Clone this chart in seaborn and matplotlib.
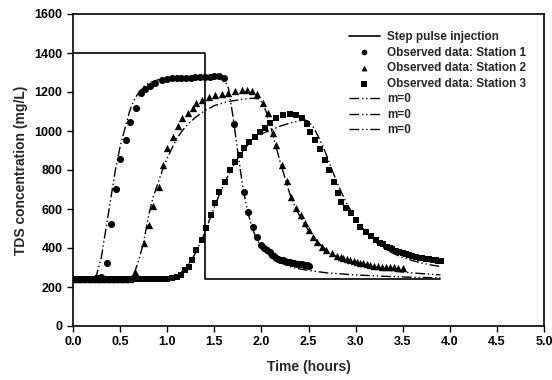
import matplotlib
matplotlib.use('Agg')
import matplotlib.pyplot as plt
import seaborn as sns

# step pulse injection
step_t = [0.0, 1.4, 1.4, 3.9]
step_c = [1400, 1400, 240, 240]

# observed data, station 1
t1 = [0.00, 0.05, 0.10, 0.15, 0.20, 0.25, 0.30, 0.36, 0.40, 0.46, 0.50, 0.56,
      0.61, 0.67, 0.72, 0.76, 0.82, 0.87, 0.94, 1.00, 1.05, 1.10, 1.15, 1.20,
      1.25, 1.30, 1.35, 1.40, 1.45, 1.50, 1.55, 1.60, 1.71, 1.81, 1.86, 1.91,
      1.95, 2.00, 2.03, 2.06, 2.09, 2.11, 2.13, 2.15, 2.18, 2.20, 2.23, 2.25,
      2.28, 2.30, 2.33, 2.35, 2.38, 2.40, 2.43, 2.45, 2.48, 2.50]
c1 = [240, 240, 240, 240, 242, 245, 250, 321, 521, 702, 855, 954,
      1046, 1116, 1193, 1215, 1232, 1248, 1262, 1268, 1270, 1272, 1272, 1274,
      1274, 1275, 1276, 1276, 1278, 1280, 1280, 1270, 1034, 686, 584, 509,
      458, 415, 402, 390, 377, 364, 357, 350, 345, 340, 336, 333,
      330, 327, 325, 322, 320, 318, 316, 314, 312, 310]

# observed data, station 2
t2 = [0.00, 0.05, 0.10, 0.15, 0.20, 0.25, 0.30, 0.35, 0.40, 0.45, 0.50, 0.55,
      0.60, 0.66, 0.75, 0.81, 0.85, 0.91, 0.96, 1.00, 1.06, 1.11, 1.16, 1.22,
      1.27, 1.31, 1.37, 1.44, 1.51, 1.58, 1.65, 1.72, 1.79, 1.85, 1.90, 1.95,
      2.02, 2.07, 2.12, 2.16, 2.22, 2.27, 2.31, 2.37, 2.42, 2.46, 2.51, 2.55,
      2.59, 2.64, 2.69, 2.75, 2.80, 2.84, 2.87, 2.91, 2.94, 2.98, 3.01, 3.05,
      3.08, 3.12, 3.15, 3.20, 3.24, 3.28, 3.32, 3.36, 3.41, 3.45, 3.50]
c2 = [240, 240, 240, 240, 240, 240, 240, 240, 240, 240, 240, 240,
      242, 279, 424, 518, 617, 714, 826, 911, 971, 1026, 1065, 1094,
      1120, 1142, 1159, 1176, 1185, 1190, 1195, 1205, 1212, 1210, 1205, 1192,
      1142, 1090, 991, 928, 826, 745, 660, 603, 569, 527, 492, 458,
      433, 407, 390, 373, 359, 352, 347, 342, 338, 334, 330, 325,
      321, 317, 313, 309, 306, 304, 303, 302, 301, 300, 300]

# observed data, station 3
t3 = [0.00, 0.05, 0.10, 0.15, 0.20, 0.25, 0.30, 0.35, 0.40, 0.45, 0.50, 0.55,
      0.60, 0.65, 0.70, 0.75, 0.80, 0.85, 0.90, 0.95, 1.00, 1.05, 1.10, 1.15,
      1.19, 1.23, 1.26, 1.31, 1.37, 1.41, 1.46, 1.51, 1.55, 1.61, 1.67, 1.72,
      1.77, 1.82, 1.87, 1.93, 1.99, 2.04, 2.09, 2.16, 2.23, 2.30, 2.37, 2.43,
      2.48, 2.52, 2.57, 2.62, 2.68, 2.72, 2.77, 2.81, 2.85, 2.90, 2.95, 3.00,
      3.05, 3.11, 3.16, 3.22, 3.26, 3.29, 3.33, 3.36, 3.39, 3.43, 3.46, 3.50,
      3.54, 3.57, 3.60, 3.64, 3.68, 3.71, 3.75, 3.78, 3.82, 3.85, 3.88, 3.91]
c3 = [240, 240, 240, 240, 240, 240, 240, 240, 240, 240, 240, 240,
      240, 240, 240, 240, 240, 240, 240, 240, 240, 245, 250, 262,
      285, 305, 338, 390, 441, 501, 569, 629, 689, 740, 800, 843,
      877, 911, 946, 971, 993, 1013, 1040, 1068, 1082, 1087, 1082, 1065,
      1036, 997, 954, 906, 851, 800, 740, 680, 637, 603, 578, 544,
      509, 484, 461, 440, 428, 418, 407, 400, 393, 386, 380, 373,
      368, 363, 359, 355, 351, 348, 345, 342, 339, 336, 334, 332]

# model curves (m=0) for stations 1-3
m1_t = [0.00, 0.20, 0.25, 0.30, 0.35, 0.40, 0.45, 0.50, 0.55, 0.60, 0.65, 0.70,
        0.75, 0.80, 0.90, 1.00, 1.20, 1.40, 1.60, 1.65, 1.70, 1.75, 1.80, 1.85,
        1.90, 1.95, 2.00, 2.10, 2.20, 2.30, 2.40, 2.50, 2.70, 3.00, 3.30, 3.60, 3.90]
m1_c = [240, 240, 262, 350, 500, 650, 800, 920, 1010, 1100, 1160, 1200,
        1228, 1245, 1262, 1270, 1274, 1276, 1272, 1220, 1070, 890, 720, 595,
        505, 445, 405, 355, 325, 305, 293, 285, 272, 262, 255, 250, 247]

m2_t = [0.00, 0.60, 0.65, 0.70, 0.75, 0.80, 0.85, 0.90, 0.95, 1.00, 1.05, 1.10,
        1.15, 1.20, 1.30, 1.40, 1.50, 1.60, 1.70, 1.80, 1.90, 1.97, 2.00, 2.05,
        2.10, 2.15, 2.20, 2.25, 2.30, 2.35, 2.40, 2.50, 2.60, 2.70, 2.80, 2.90,
        3.00, 3.20, 3.40, 3.60, 3.90]
m2_c = [240, 245, 270, 340, 430, 560, 660, 730, 800, 860, 911, 960,
        995, 1025, 1070, 1105, 1130, 1145, 1155, 1163, 1168, 1165, 1150, 1100,
        1020, 930, 840, 760, 680, 620, 570, 490, 430, 385, 355, 332,
        315, 295, 282, 272, 262]

m3_t = [0.00, 1.00, 1.05, 1.10, 1.15, 1.20, 1.25, 1.30, 1.35, 1.40, 1.45, 1.50,
        1.55, 1.60, 1.65, 1.70, 1.75, 1.80, 1.85, 1.90, 1.95, 2.00, 2.10, 2.20,
        2.30, 2.40, 2.45, 2.50, 2.55, 2.60, 2.65, 2.70, 2.75, 2.80, 2.85, 2.90,
        2.95, 3.00, 3.10, 3.20, 3.30, 3.40, 3.50, 3.60, 3.70, 3.80, 3.90]
m3_c = [240, 240, 245, 258, 275, 300, 330, 375, 425, 480, 545, 610,
        670, 725, 775, 820, 860, 895, 925, 950, 970, 985, 1005, 1025,
        1040, 1052, 1058, 1050, 1020, 975, 925, 865, 800, 740, 685, 635,
        590, 550, 485, 435, 400, 372, 352, 336, 323, 313, 305]

x_ticks = [0.0, 0.5, 1.0, 1.5, 2.0, 2.5, 3.0, 3.5, 4.0, 4.5, 5.0]
y_ticks = [0, 200, 400, 600, 800, 1000, 1200, 1400, 1600]

sns.set_style('ticks')
plt.rcParams['font.family'] = ['Liberation Sans', 'DejaVu Sans']

fig = plt.figure(figsize=(5.52, 3.8), dpi=100)
ax = fig.add_axes([73 / 552, 1 - 326 / 380, 471 / 552, 312 / 380])

dash = (0, (7, 2, 1, 2, 1, 2))
sns.lineplot(x=step_t, y=step_c, ax=ax, color='k', lw=1.2, estimator=None,
             sort=False, label='Step pulse injection')
sns.scatterplot(x=t1, y=c1, ax=ax, color='k', marker='o', s=26, linewidth=0,
                label='Observed data: Station 1')
sns.scatterplot(x=t2, y=c2, ax=ax, color='k', marker='^', s=28, linewidth=0,
                label='Observed data: Station 2')
sns.scatterplot(x=t3, y=c3, ax=ax, color='k', marker='s', s=24, linewidth=0,
                label='Observed data: Station 3')
for mt, mc in [(m1_t, m1_c), (m2_t, m2_c), (m3_t, m3_c)]:
    sns.lineplot(x=mt, y=mc, ax=ax, color='k', lw=1.0, linestyle=dash,
                 estimator=None, label='m=0')

ax.set_xlim(0, 5)
ax.set_ylim(0, 1600)
ax.set_xticks(x_ticks)
ax.set_xticklabels([f'{v:.1f}' for v in x_ticks])
ax.set_yticks(y_ticks)
ax.set_yticklabels([str(v) for v in y_ticks])
ax.tick_params(direction='out', length=4, width=1, labelsize=9, colors='k')
for lab in ax.get_xticklabels() + ax.get_yticklabels():
    lab.set_fontweight('bold')
for sp in ax.spines.values():
    sp.set_linewidth(1.2)
    sp.set_color('k')

ax.set_xlabel('Time (hours)', fontsize=10, fontweight='bold', labelpad=8)
ax.set_ylabel('TDS concentration (mg/L)', fontsize=10, fontweight='bold', labelpad=5)

handles, labels = ax.get_legend_handles_labels()
ax.legend(handles, labels, loc='upper left', bbox_to_anchor=(349 / 552, 1 - 31 / 380),
          bbox_transform=fig.transFigure, frameon=False,
          prop={'size': 8.5, 'weight': 'bold'},
          handlelength=2.6, handletextpad=0.6, labelspacing=0.3,
          borderpad=0, borderaxespad=0, markerscale=0.8)

plt.savefig('out.png', dpi=100)
plt.close()
